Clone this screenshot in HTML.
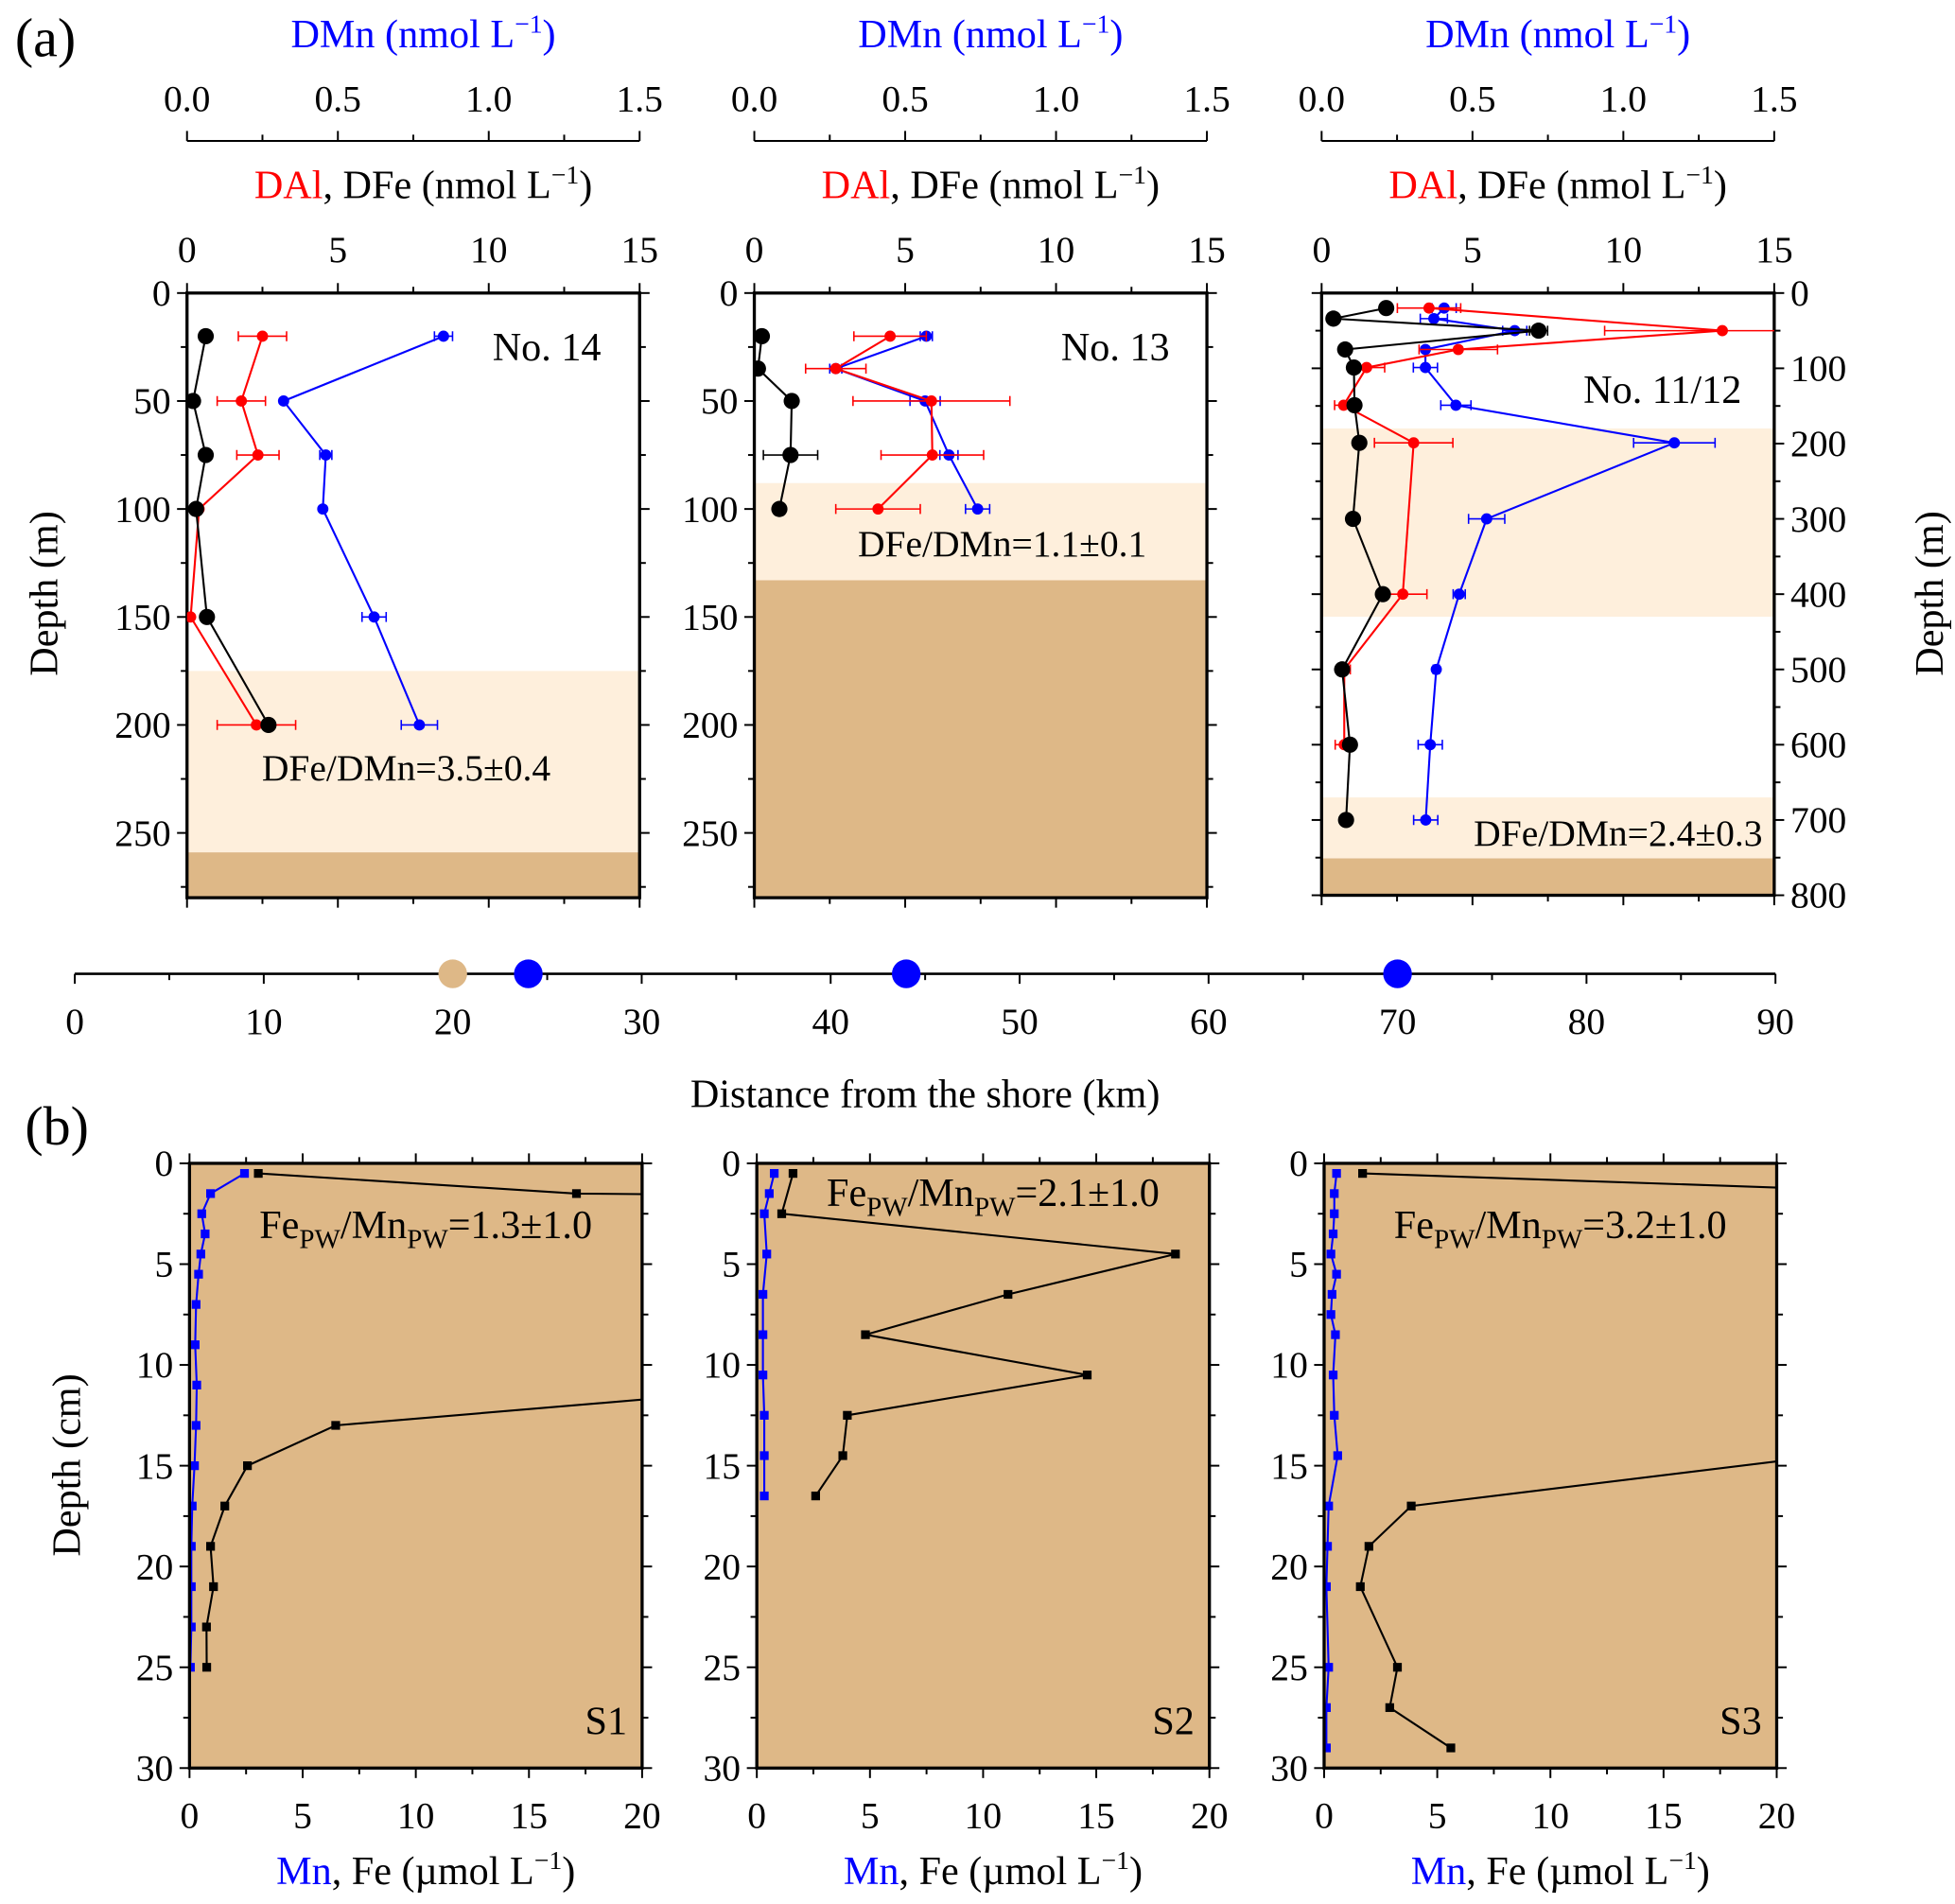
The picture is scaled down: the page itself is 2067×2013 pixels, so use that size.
<!DOCTYPE html>
<html><head><meta charset="utf-8"><style>
html,body{margin:0;padding:0;background:#fff}
svg{display:block;font-family:"Liberation Serif",serif}
</style></head><body>
<svg id="fig" width="2067" height="2013" viewBox="0 0 1568 1527" xmlns="http://www.w3.org/2000/svg">
<text x="12" y="45" font-size="44">(a)</text>
<text x="20" y="918" font-size="44">(b)</text>
<text transform="translate(46,476) rotate(-90)" text-anchor="middle" font-size="32">Depth (m)</text>
<text transform="translate(1558,476) rotate(-90)" text-anchor="middle" font-size="32">Depth (m)</text>
<text transform="translate(64,1175) rotate(-90)" text-anchor="middle" font-size="32">Depth (cm)</text>
<text x="742" y="888" text-anchor="middle" font-size="32">Distance from the shore (km)</text>
</svg>
<script>
// ---------- Panel (a) data ----------
const p14Depth=[20,50,75,100,150,200];
const p14Fe=[0.62,0.2,0.62,0.3,0.66,2.7];
const p14Al=[2.5,1.8,2.35,0.4,0.12,2.3];
const p14AlErr=[0.8,0.8,0.7,0,0,1.3];
const p14Mn=[0.85,0.32,0.46,0.45,0.62,0.77];
const p14MnErr=[0.03,0,0.02,0,0.04,0.06];
const p14FeErr=[0,0,0,0,0,0];

const p13Depth=[20,35,50,75,100];
const p13Fe=[0.25,0.12,1.24,1.2,0.83];
const p13FeErr=[0,0,0,0.9,0];
const p13Al=[4.5,2.7,5.87,5.9,4.1];
const p13AlErr=[1.2,1.0,2.6,1.7,1.4];
const p13Mn=[0.57,0.27,0.566,0.645,0.74];
const p13MnErr=[0.02,0.02,0.05,0.03,0.04];

const p11FeDepth=[20,34,50,75,99,149,199,300,400,500,600,700];
const p11Fe=[2.14,0.39,7.19,0.78,1.07,1.09,1.25,1.04,2.03,0.68,0.94,0.81];
const p11FeErr=[0,0,0.3,0,0,0,0,0,0,0,0,0];
const p11AlDepth=[20,50,75,99,149,199,400,500,600];
const p11Al=[3.56,13.28,4.53,1.49,0.73,3.05,2.69,0.75,0.75];
const p11AlErr=[1.05,3.9,1.3,0.6,0.3,1.3,0.8,0.2,0.3];
const p11MnDepth=[20,34,50,75,99,149,199,300,400,500,600,700];
const p11Mn=[0.406,0.372,0.64,0.344,0.344,0.445,1.169,0.547,0.456,0.38,0.36,0.345];
const p11MnErr=[0.04,0.045,0.04,0.005,0.04,0.05,0.135,0.06,0.02,0.01,0.04,0.04];

// distance axis
const stationDist=[20,24,44,70];
const stationType=["sed","water","water","water"];

// ---------- Panel (b) data ----------
const s1FeDepth=[0.5,1.5,2.5,5,9,11,13,15,17,19,21,23,25];
const s1Fe=[3.04,17.1,123,100,100,27.6,6.46,2.56,1.56,0.93,1.06,0.75,0.76];
const s1MnDepth=[0.5,1.5,2.5,3.5,4.5,5.5,7,9,11,13,15,17,19,21,23,25];
const s1Mn=[2.43,0.93,0.54,0.69,0.5,0.4,0.29,0.25,0.32,0.29,0.22,0.12,0.08,0.08,0.08,0.04];

const s2Depth=[0.5,2.5,4.5,6.5,8.5,10.5,12.5,14.5,16.5];
const s2Fe=[1.6,1.1,18.5,11.1,4.8,14.6,4.0,3.8,2.6];
const s2MnDepth=[0.5,1.5,2.5,4.5,6.5,8.5,10.5,12.5,14.5,16.5];
const s2Mn=[0.77,0.55,0.33,0.44,0.27,0.27,0.27,0.33,0.33,0.33];

const s3FeDepth=[0.5,2.5,5,9,13,17,19,21,25,27,29];
const s3Fe=[1.7,54,60,60,33,3.85,1.98,1.6,3.24,2.9,5.6];
const s3MnDepth=[0.5,1.5,2.5,3.5,4.5,5.5,6.5,7.5,8.5,10.5,12.5,14.5,17,19,21,25,27,29];
const s3Mn=[0.55,0.45,0.45,0.4,0.3,0.55,0.35,0.3,0.5,0.4,0.45,0.6,0.2,0.15,0.1,0.2,0.1,0.1];

const NS="http://www.w3.org/2000/svg";
const svg=document.getElementById('fig');
function mk(tag,at,parent){const e=document.createElementNS(NS,tag);for(const k in at)e.setAttribute(k,at[k]);(parent||svg).appendChild(e);return e;}

const W=363;
const TF=30, TT=32;
const panelsA=[
 {x0:150,name:'no14',maxD:280,yScale:433/250,bands:[[175,259,'#FEEFDC'],[259,280,'#DEB887']],
  fe:[p14Depth,p14Fe,p14FeErr],al:[p14Depth,p14Al,p14AlErr],mn:[p14Depth,p14Mn,p14MnErr],
  ticks:[0,50,100,150,200,250],minor:25,label:'No. 14',lx:395,ly:289,ratio:'DFe/DMn=3.5±0.4',rx:210,ry:626,leftLabels:true},
 {x0:605,name:'no13',maxD:280,yScale:433/250,bands:[[88,133,'#FEEFDC'],[133,280,'#DEB887']],
  fe:[p13Depth,p13Fe,p13FeErr],al:[p13Depth,p13Al,p13AlErr],mn:[p13Depth,p13Mn,p13MnErr],
  ticks:[0,50,100,150,200,250],minor:25,label:'No. 13',lx:851,ly:289,ratio:'DFe/DMn=1.1±0.1',rx:688,ry:446,leftLabels:true},
 {x0:1060,name:'no11-12',maxD:800,yScale:483/800,bands:[[180,430,'#FEEFDC'],[670,751,'#FEEFDC'],[751,800,'#DEB887']],
  fe:[p11FeDepth,p11Fe,p11FeErr],al:[p11AlDepth,p11Al,p11AlErr],mn:[p11MnDepth,p11Mn,p11MnErr],
  ticks:[0,100,200,300,400,500,600,700,800],minor:50,label:'No. 11/12',lx:1270,ly:323,ratio:'DFe/DMn=2.4±0.3',rx:1182,ry:678,leftLabels:false}
];
const Y0=235;
panelsA.forEach(p=>{
  const g=mk('g',{});
  
  
  const xv=v=>p.x0+v/15*W, xm=v=>p.x0+v/1.5*W, yd=d=>Y0+d*p.yScale;
  const H=p.maxD*p.yScale;
  p.bands.forEach(b=>{const r=mk('rect',{x:p.x0,y:yd(b[0]),width:W,height:yd(b[1])-yd(b[0]),fill:b[2]},g);
    
    });
  const fr=mk('rect',{x:p.x0,y:Y0,width:W,height:H,fill:'none',stroke:'#000','stroke-width':2.5},g);
  
  
  for(let d=0;d<=p.maxD+0.01;d+=p.minor){const major=p.ticks.includes(d);const L=major?8:5;
    mk('line',{x1:p.x0-L,x2:p.x0,y1:yd(d),y2:yd(d),stroke:'#000','stroke-width':1.5},g);
    mk('line',{x1:p.x0+W,x2:p.x0+W+L,y1:yd(d),y2:yd(d),stroke:'#000','stroke-width':1.5},g);}
  p.ticks.forEach(d=>{
    let t;
    if(p.leftLabels){t=mk('text',{x:p.x0-13,y:yd(d)+10,'text-anchor':'end','font-size':TF},g);}
    else{t=mk('text',{x:p.x0+W+13,y:yd(d)+10,'text-anchor':'start','font-size':TF},g);}
    t.textContent=d;
    
    
  });
  for(let v=0;v<=15;v+=2.5){const L=(v%5===0)?8:5;mk('line',{x1:xv(v),x2:xv(v),y1:Y0-L,y2:Y0,stroke:'#000','stroke-width':1.5},g);
    mk('line',{x1:xv(v),x2:xv(v),y1:Y0+H,y2:Y0+H+L,stroke:'#000','stroke-width':1.5},g);}
  [0,5,10,15].forEach(v=>{const t=mk('text',{x:xv(v),y:210,'text-anchor':'middle','font-size':TF},g);t.textContent=v;
    
    });
  mk('line',{x1:p.x0,x2:p.x0+W,y1:113,y2:113,stroke:'#000','stroke-width':1.5},g);
  for(let v=0;v<=1.5001;v+=0.25){const L=(Math.round(v*100)%50===0)?8:5;mk('line',{x1:xm(v),x2:xm(v),y1:113-L,y2:113,stroke:'#000','stroke-width':1.5},g);}
  ['0.0','0.5','1.0','1.5'].forEach(s=>{const t=mk('text',{x:xm(+s),y:89,'text-anchor':'middle','font-size':TF},g);t.textContent=s;
    
    });
  const cx=p.x0+W/2-20;
  const t1=mk('text',{x:cx+28,y:38,'text-anchor':'middle','font-size':TT,fill:'#0000ff'},g);
  t1.innerHTML='DMn (nmol L<tspan dy="-12" font-size="21">−1</tspan><tspan dy="12">)</tspan>';
  
  
  const t2=mk('text',{x:cx+28,y:159,'text-anchor':'middle','font-size':TT},g);
  t2.innerHTML='<tspan fill="#ff0000">DAl</tspan>, DFe (nmol L<tspan dy="-12" font-size="21">−1</tspan><tspan dy="12">)</tspan>';
  
  
  const lb=mk('text',{x:p.lx,y:p.ly,'font-size':TT},g);lb.textContent=p.label;
  
  
  const rt=mk('text',{x:p.rx,y:p.ry,'font-size':TF},g);rt.textContent=p.ratio;
  
  
  const series=[[p.mn,'#0000ff',xm,4.5,'dmn'],[p.al,'#ff0000',xv,4.5,'dal'],[p.fe,'#000000',xv,6.5,'dfe']];
  const clipId='clip-'+p.name;
  const cp=mk('clipPath',{id:clipId},g);mk('rect',{x:p.x0,y:Y0,width:W,height:H},cp);
  series.forEach(s=>{
    const [dep,val,err]=s[0];const col=s[1],fx=s[2];
    const sg=mk('g',{'clip-path':'url(#'+clipId+')'},g);
    
    
    const pts=dep.map((d,i)=>fx(val[i])+','+yd(d)).join(' ');
    const pl=mk('polyline',{points:pts,fill:'none',stroke:col,'stroke-width':1.6},sg);
    
    
    dep.forEach((d,i)=>{
      const y=yd(d);
      if(err[i]>0){const a=fx(val[i]-err[i]),b=fx(val[i]+err[i]);
        mk('line',{x1:a,x2:b,y1:y,y2:y,stroke:col,'stroke-width':1.2},sg);
        mk('line',{x1:a,x2:a,y1:y-4,y2:y+4,stroke:col,'stroke-width':1.2},sg);
        mk('line',{x1:b,x2:b,y1:y-4,y2:y+4,stroke:col,'stroke-width':1.2},sg);}
      const c=mk('circle',{cx:fx(val[i]),cy:y,r:s[3],fill:col},sg);
      
      
    });
  });
});

(function(){
  const g=mk('g',{});
  
  
  const xd=v=>60+v/90*1364, Y=781;
  mk('line',{x1:xd(0),x2:xd(90),y1:Y,y2:Y,stroke:'#000','stroke-width':2},g);
  for(let v=0;v<=90;v+=5){mk('line',{x1:xd(v),x2:xd(v),y1:Y,y2:Y+(v%10===0?8:5),stroke:'#000','stroke-width':1.5},g);}
  for(let v=0;v<=90;v+=10){const t=mk('text',{x:xd(v),y:829,'text-anchor':'middle','font-size':TF},g);t.textContent=v;
    
    }
  stationDist.forEach((d,i)=>{const c=mk('circle',{cx:xd(d),cy:Y,r:11.5,fill:stationType[i]==='sed'?'#DEB887':'#0000ff'},g);
    
    });
})();

const panelsB=[
 {x0:152,name:'s1',fe:[s1FeDepth,s1Fe],mn:[s1MnDepth,s1Mn],label:'S1',ratio:'1.3±1.0',rx:208,ry:993},
 {x0:607,name:'s2',fe:[s2Depth,s2Fe],mn:[s2MnDepth,s2Mn],label:'S2',ratio:'2.1±1.0',rx:663,ry:967},
 {x0:1062,name:'s3',fe:[s3FeDepth,s3Fe],mn:[s3MnDepth,s3Mn],label:'S3',ratio:'3.2±1.0',rx:1118,ry:993}
];
const BY0=933,BH=485;
panelsB.forEach(p=>{
  const g=mk('g',{});
  
  
  const xv=v=>p.x0+v/20*W, yd=d=>BY0+d/30*BH;
  mk('rect',{x:p.x0,y:BY0,width:W,height:BH,fill:'#DEB887'},g);
  for(let d=0;d<=30;d+=2.5){const L=(d%5===0)?8:5;
    mk('line',{x1:p.x0-L,x2:p.x0,y1:yd(d),y2:yd(d),stroke:'#000','stroke-width':1.5},g);
    mk('line',{x1:p.x0+W,x2:p.x0+W+L,y1:yd(d),y2:yd(d),stroke:'#000','stroke-width':1.5},g);}
  for(let d=0;d<=30;d+=5){const t=mk('text',{x:p.x0-13,y:yd(d)+10,'text-anchor':'end','font-size':TF},g);t.textContent=d;
    
    }
  for(let v=0;v<=20;v+=2.5){const L=(v%5===0)?8:5;
    mk('line',{x1:xv(v),x2:xv(v),y1:BY0-L,y2:BY0,stroke:'#000','stroke-width':1.5},g);
    mk('line',{x1:xv(v),x2:xv(v),y1:BY0+BH,y2:BY0+BH+L,stroke:'#000','stroke-width':1.5},g);}
  for(let v=0;v<=20;v+=5){const t=mk('text',{x:xv(v),y:1466,'text-anchor':'middle','font-size':TF},g);t.textContent=v;
    
    }
  const clipId='clipb-'+p.name;
  const cp=mk('clipPath',{id:clipId},g);mk('rect',{x:p.x0,y:BY0,width:W,height:BH},cp);
  [[p.fe,'#000','fe'],[p.mn,'#0000ff','mn']].forEach(s=>{
    const [dep,val]=s[0];
    const sg=mk('g',{'clip-path':'url(#'+clipId+')'},g);
    
    
    const pl=mk('polyline',{points:dep.map((d,i)=>xv(val[i])+','+yd(d)).join(' '),fill:'none',stroke:s[1],'stroke-width':1.6},sg);
    
    
    dep.forEach((d,i)=>{const r=mk('rect',{x:xv(val[i])-3.5,y:yd(d)-3.5,width:7,height:7,fill:s[1]},sg);
      
      });
  });
  mk('rect',{x:p.x0,y:BY0,width:W,height:BH,fill:'none',stroke:'#000','stroke-width':2.5},g);
  const rt=mk('text',{x:p.rx,y:p.ry,'font-size':TT},g);
  rt.innerHTML='Fe<tspan dy="8" font-size="22">PW</tspan><tspan dy="-8">/Mn</tspan><tspan dy="8" font-size="22">PW</tspan><tspan dy="-8">='+p.ratio+'</tspan>';
  
  
  const lb=mk('text',{x:p.x0+W-12,y:1391,'text-anchor':'end','font-size':TT},g);lb.textContent=p.label;
  
  
  const xt=mk('text',{x:p.x0+W/2+8,y:1511,'text-anchor':'middle','font-size':TT},g);
  xt.innerHTML='<tspan fill="#0000ff">Mn</tspan>, Fe (µmol L<tspan dy="-12" font-size="21">−1</tspan><tspan dy="12">)</tspan>';
  
  
});
</script>
</body></html>
